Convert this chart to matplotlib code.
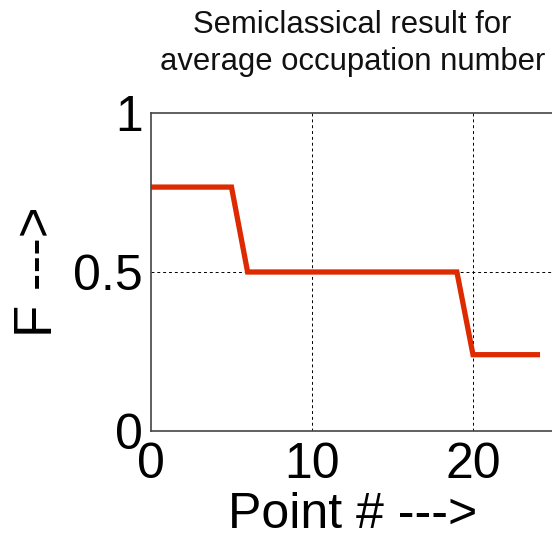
import matplotlib
matplotlib.use("Agg")
import matplotlib.pyplot as plt

plt.rcParams['font.family'] = ['Liberation Sans', 'DejaVu Sans']

point = list(range(25))
F = [0.767]*6 + [0.5]*14 + [0.24]*5
xticks = [0, 10, 20]
yticks = [0, 0.5, 1]

W, H = 552, 539
fig = plt.figure(figsize=(W/100, H/100), dpi=100)
l, r, t, b = 151, 553.5, 113, 431
ax = fig.add_axes([l/W, 1 - b/H, (r - l)/W, (b - t)/H])
ax.plot(point, F, color='#dd2a00', linewidth=3.8, solid_joinstyle='miter')
ax.set_xlim(0, 25)
ax.set_ylim(0, 1)
ax.set_xticks(xticks)
ax.set_yticks(yticks)
ax.set_xticklabels([str(v) for v in xticks])
ax.set_yticklabels(['0', '0.5', '1'])
ax.tick_params(labelsize=36, length=0)
ax.tick_params(axis='y', pad=6)
ax.tick_params(axis='x', pad=8)
for v in [10, 20]:
    ax.axvline(v, color='black', linestyle=(0, (3, 3)), linewidth=0.7, zorder=0)
ax.axhline(0.5, color='black', linestyle=(0, (3, 3)), linewidth=0.7, zorder=0)
for s in ax.spines.values():
    s.set_color('#444444')
    s.set_linewidth(1.2)
ax.spines['right'].set_visible(False)
ax.set_xlabel('Point # --->', fontsize=36, labelpad=3)
ax.set_ylabel('F --->', fontsize=38, labelpad=7)
ax.set_title('Semiclassical result for\naverage occupation number', fontsize=22.3,
             pad=31, linespacing=1.3, color='#111111')
fig.savefig('out.png', dpi=100)
